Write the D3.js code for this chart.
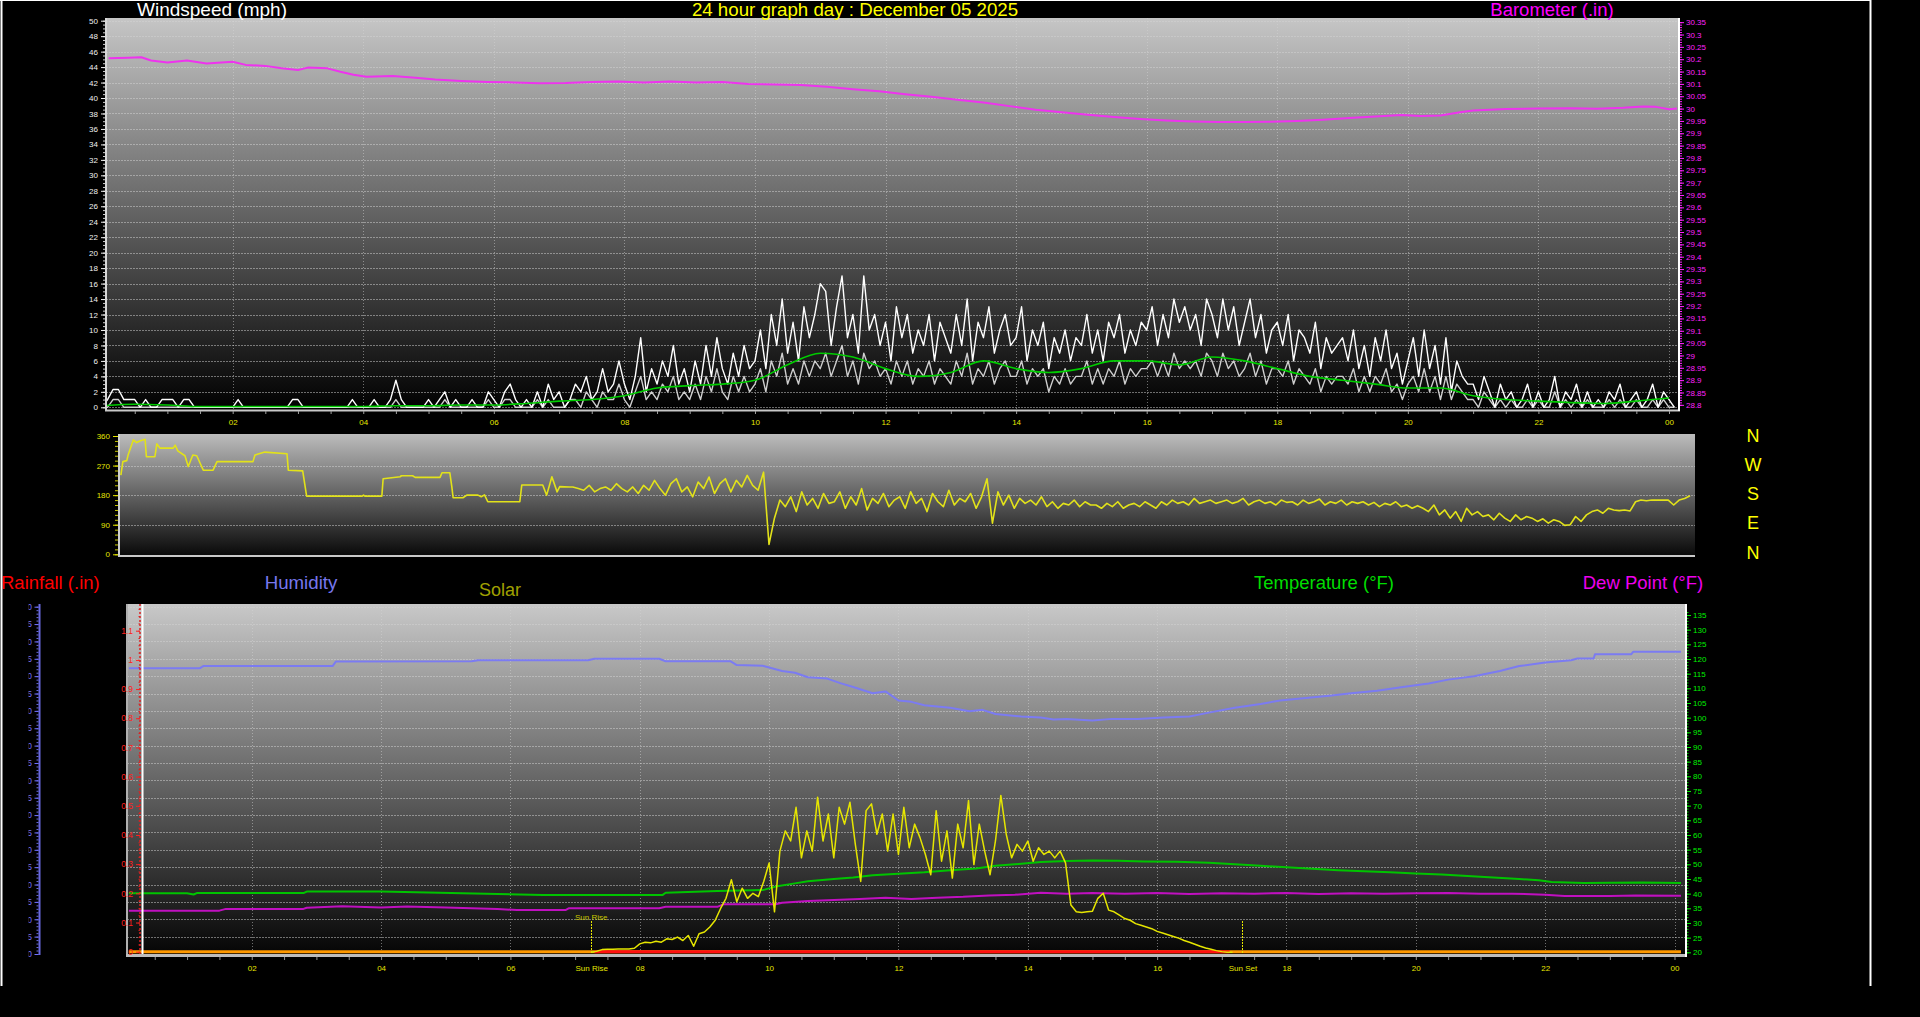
<!DOCTYPE html>
<html><head><meta charset="utf-8">
<script src="https://cdn.jsdelivr.net/npm/d3@7"></script>
<style>html,body{margin:0;padding:0;background:#000;overflow:hidden}</style>
</head><body>
<svg id="c" width="1920" height="1017"></svg>
<script>
// ================= DATA =================
const timeTickHours  = [2,4,6,8,10,12,14,16,18,20,22,24];
const timeTickLabels = ["02","04","06","08","10","12","14","16","18","20","22","00"];
const sunRiseHour = 7.25, sunSetHour = 17.32;
const sunLabels = ["Sun Rise","Sun Set"];

const windTickValues = [0,2,4,6,8,10,12,14,16,18,20,22,24,26,28,30,32,34,36,38,40,42,44,46,48,50];
const baroTickValues = [28.8,28.85,28.9,28.95,29,29.05,29.1,29.15,29.2,29.25,29.3,29.35,29.4,29.45,29.5,29.55,29.6,29.65,29.7,29.75,29.8,29.85,29.9,29.95,30,30.05,30.1,30.15,30.2,30.25,30.3,30.35];
const dirTickValues  = [0,90,180,270,360];
const compassLabels  = ["N","W","S","E","N"];
const rainTickValues = [0,0.1,0.2,0.3,0.4,0.5,0.6,0.7,0.8,0.9,1,1.1];
const tempTickValues = [20,25,30,35,40,45,50,55,60,65,70,75,80,85,90,95,100,105,110,115,120,125,130,135];
const humTickValues  = [0,5,10,15,20,25,30,35,40,45,50,55,60,65,70,75,80,85,90,95,100];

// barometer (.in)
const baroHours  = [0.1,0.4,0.6,0.75,1.0,1.3,1.6,2.0,2.2,2.5,2.75,3.0,3.15,3.45,3.65,3.85,4.05,4.45,4.8,5.1,5.5,5.9,6.3,6.7,7.1,7.5,7.9,8.3,8.7,9.1,9.5,9.9,10.3,10.7,11.1,11.5,11.9,12.3,12.7,13.1,13.5,13.9,14.3,14.7,15.1,15.5,15.9,16.3,16.7,17.1,17.5,17.9,18.3,18.7,19.1,19.5,19.9,20.2,20.5,20.8,21.0,21.5,22.0,22.5,22.9,23.3,23.6,23.8,24.0,24.12];
const baroValues = [30.204,30.206,30.208,30.195,30.187,30.195,30.183,30.190,30.177,30.173,30.163,30.156,30.166,30.163,30.149,30.137,30.129,30.132,30.125,30.118,30.112,30.108,30.106,30.103,30.104,30.108,30.110,30.106,30.110,30.106,30.108,30.100,30.098,30.096,30.088,30.078,30.070,30.058,30.048,30.036,30.025,30.010,29.995,29.985,29.975,29.966,29.958,29.952,29.948,29.946,29.946,29.947,29.950,29.955,29.962,29.968,29.974,29.970,29.972,29.985,29.992,29.998,30.000,30.001,29.999,30.003,30.008,30.007,29.997,30.000];

// wind, 5-minute readings from 00:00 (mph)
const windStepHours = 5/60;
const gustWind = [
0,1,2.3,2.3,1,1,1,0,1,0,0,1,
1,1,0,1,1,0,0,0,0,0,0,0,
0,1,0,0,0,0,0,0,0,0,0,1,
1,0,0,0,0,0,0,0,0,0,1,0,
0,0,1,0,0,1,3.5,1,0,0,0,0,
1,0,1,2,0,1,0,0,1,0,0,2,
1,0,2,3,1,0,1,0,2,0,3,1,
2,0,1,3,2,4,1,2,5,2,3,6,
3,1,4,9,2,5,3,6,4,8,3,5,
2,6,3,8,4,9,5,3,7,4,8,5,
6,10,5,12,8,14,7,11,6,13,9,12,
16,15,8,13,17,9,12,7,17,10,12,8,
11,6,13,9,12,7,10,8,12,6,11,9,
7,12,8,14,6,11,9,13,7,10,12,8,
9,13,6,10,8,11,5,9,7,10,6,9,
8,12,7,10,6,11,9,12,7,10,8,11,
10,13,8,12,9,14,11,13,10,12,8,14,
12,9,14,10,13,8,11,14,9,12,7,10,
11,8,12,6,10,9,7,11,5,9,7,8,
9,6,10,5,8,4,9,6,10,5,7,3,
6,9,4,10,5,8,3,9,2,6,4,3,
3,1,4,2,0,3,1,2,0,1,3,0,
2,0,1,4,0,2,1,3,0,2,0,1,
0,2,1,3,0,1,2,0,1,3,0,2,
1,0];
const avgWind = [
0,0,1,1,0,0,0,0,0,0,0,0,
0,0,0,0,0,0,0,0,0,0,0,0,
0,0,0,0,0,0,0,0,0,0,0,0,
0,0,0,0,0,0,0,0,0,0,0,0,
0,0,0,0,0,0,1,0,0,0,0,0,
0,0,0,1,0,0,0,0,0,0,0,1,
0,0,1,1,0,0,0,0,1,0,1,0,
0,0,1,1,0,2,1,0,2,1,1,3,
1,0,2,4,1,2,1,3,2,4,1,2,
1,3,1,4,2,5,2,1,4,2,4,2,
3,5,2,6,4,7,3,5,3,6,4,6,
5,7,4,6,8,4,6,3,7,5,6,4,
5,3,6,4,6,3,5,4,6,3,5,4,
3,6,4,7,3,5,4,6,3,5,6,4,
4,6,3,5,4,5,2,4,3,5,3,4,
4,6,3,5,3,5,4,6,3,5,4,5,
5,6,4,6,4,7,5,6,5,6,4,7,
6,4,7,5,6,4,5,7,4,6,3,5,
5,4,6,3,5,4,3,5,2,4,3,4,
4,3,5,2,4,2,4,3,5,2,3,1,
3,4,2,5,2,4,1,4,1,3,2,1,
1,0,2,1,0,1,0,1,0,0,1,0,
1,0,0,2,0,1,0,1,0,1,0,0,
0,1,0,1,0,0,1,0,0,1,0,1,
0,0];
// smoothed average wind, 30-minute readings from 00:00
const smoothStepHours = 0.5;
const smoothWind = [0.2,0.4,0.3,0.1,0.1,0.1,0.1,0.1,0.1,0.2,0.2,0.3,0.3,0.5,0.8,1.0,1.5,2.5,2.8,3.0,3.5,5.5,7.0,6.5,5.0,4.0,4.5,6.0,5.0,4.5,5.0,6.0,6.0,5.5,6.5,6.0,5.0,4.0,3.5,3.0,2.5,2.5,1.5,1.0,0.8,0.6,0.5,0.8,1.2];

// wind direction (degrees): stepped readings, then 5-minute readings from 07:00
const dirEarlyHours  = [0.09,0.12,0.18,0.2,0.28,0.33,0.38,0.46,0.48,0.61,0.64,0.69,0.89,0.92,0.96,1.07,1.12,1.19,1.25,1.35,1.5,1.56,2.11,2.14,2.29,2.63,2.65,2.87,2.93,3.78,3.8,3.82,4.08,4.1,4.36,4.38,4.55,4.59,4.97,5.0,5.12,5.15,5.17,5.32,5.38,5.55,5.6,5.65,5.7,6.19,6.22,6.54,6.6,6.68,6.76,6.8,6.95];
const dirEarlyValues = [241,282,285,302,348,340,345,350,297,297,336,323,323,332,315,300,267,302,300,256,256,282,282,302,311,306,256,254,177,177,180,177,177,230,236,239,239,234,234,248,248,206,172,172,180,180,175,181,160,160,211,211,180,236,190,206,205];
const dirLateStart = 7.0;
const dirLateValues = [
205,200,195,210,190,200,205,195,215,200,190,205,
185,210,195,225,200,180,215,230,190,205,175,220,
200,235,185,215,230,190,225,205,240,210,195,250,
30,110,165,145,175,130,190,150,170,140,185,155,
160,190,140,175,150,200,135,170,155,185,145,165,
175,140,190,155,170,130,185,160,145,195,150,170,
160,185,140,175,230,95,190,150,180,140,170,155,
165,150,175,145,160,140,155,150,165,145,160,150,
150,140,155,145,160,140,150,155,145,160,150,140,
160,150,165,155,160,150,170,155,160,165,155,160,
165,155,160,170,150,160,165,155,160,150,165,158,
160,150,165,155,160,168,150,160,155,165,150,160,
155,160,150,158,145,155,150,160,145,150,140,148,
140,130,150,120,135,110,130,100,140,120,130,115,
120,105,125,110,100,120,105,115,110,100,108,95,
105,100,88,90,115,100,120,130,135,125,140,135,
133,135,132,160,165,163,165,165,165,165,150,165,
170,178];

// humidity (%)
const humHours  = [0.1,1.2,1.25,3.25,3.3,5.4,5.5,7.2,7.3,8.3,8.4,9.4,9.5,9.9,10.2,10.4,10.6,10.9,11.1,11.3,11.6,11.8,12.0,12.2,12.4,12.8,13.1,13.3,13.5,13.9,14.2,14.4,14.6,15.0,15.3,15.7,16.1,16.5,16.8,17.2,17.6,17.9,18.3,18.7,19.0,19.4,19.8,20.2,20.5,20.9,21.3,21.6,22.0,22.4,22.5,22.75,22.77,23.33,23.36,24.1];
const humValues = [82.3,82.3,82.9,82.9,84.2,84.3,84.6,84.6,85.0,85.0,84.3,84.3,83.2,83.0,81.5,81.0,79.7,79.3,78.0,76.9,75.1,75.6,73.0,72.6,71.6,70.9,69.9,70.3,69.1,68.4,68.1,67.5,67.7,67.2,67.7,67.7,68.1,68.4,69.5,70.9,72.0,73.0,73.7,74.4,75.1,75.8,76.9,77.9,79.0,80.0,81.5,82.9,83.9,84.6,85.1,85.1,86.3,86.3,87.0,87.0];

// temperature (°F)
const tempHours  = [0.1,1.0,1.1,1.15,2.8,2.85,4.0,5.8,6.5,8.35,8.4,9.2,9.9,10.1,10.4,10.6,11.0,11.3,11.6,12.0,12.4,12.8,13.2,13.5,13.9,14.2,14.6,15.0,15.4,15.8,16.3,16.8,17.2,17.6,18.0,18.4,18.8,19.2,19.6,20.0,20.4,20.8,21.2,21.6,21.9,22.1,22.6,23.0,23.5,24.1];
const tempValues = [40.1,40.1,39.7,40.2,40.2,40.7,40.7,39.9,39.5,39.5,40.3,40.9,41.2,42.4,43.5,44.2,45.0,45.5,46.3,46.8,47.3,48.0,48.6,49.5,50.2,50.8,51.1,51.3,51.2,51.0,50.9,50.5,50.0,49.5,49.0,48.5,48.0,47.6,47.3,46.9,46.5,46.0,45.5,45.0,44.6,44.0,43.6,43.7,43.8,43.6];

// dew point (°F)
const dewHours  = [0.1,1.5,1.6,2.8,2.85,3.4,4.0,4.4,5.0,5.8,6.1,6.85,6.9,8.3,8.4,9.2,9.3,10.1,10.2,10.6,11.0,11.4,11.8,12.2,12.6,13.0,13.4,13.8,14.2,14.6,15.0,15.5,16.0,16.5,17.0,17.5,18.0,18.5,19.0,19.5,20.0,20.5,21.0,21.5,22.0,22.3,23.0,23.4,24.1];
const dewValues = [34.2,34.2,34.8,34.8,35.2,35.7,35.3,35.6,35.3,34.8,34.4,34.4,35.0,35.0,35.5,35.5,36.4,36.4,36.9,37.5,37.8,38.2,38.6,38.2,38.6,38.9,39.4,39.6,40.3,40.0,40.2,40.0,40.2,39.9,40.1,40.0,40.2,39.9,40.1,40.0,40.1,40.2,40.0,40.0,39.6,39.2,39.2,39.4,39.3];

// solar (W/m²), 5-minute readings from sunrise
const solarStart = 7.25;
const solarValues = [0,3,8,9,9,10,10,10,12,25,30,28,33,30,40,38,45,35,50,18,55,60,75,95,130,160,215,150,190,160,175,165,210,265,120,300,360,330,430,280,360,300,460,330,410,280,430,380,445,320,210,420,440,350,410,300,410,290,430,310,380,340,290,230,420,270,360,220,380,310,450,260,380,300,230,330,465,350,280,320,300,330,270,310,290,300,280,300,265,140,120,118,120,122,160,175,125,120,110,100,95,85,80,75,70,62,57,52,47,42,35,30,24,18,13,9,5,2,0,0];

// rainfall (.in) and rain-rate baseline readings
const rainHours  = [0.1,24.1];
const rainValues = [0,0];
const rainRateHours  = [7.3,17.12];
const rainRateValues = [0,0];

// ================= DRAWING =================
const FONT = "'Liberation Sans', Arial, sans-serif";
const svg = d3.select("#c");
const defs = svg.append("defs");

function grad(id, c0, c1) {
  const g = defs.append("linearGradient").attr("id", id).attr("x1",0).attr("y1",0).attr("x2",0).attr("y2",1);
  g.append("stop").attr("offset","0%").attr("stop-color",c0);
  g.append("stop").attr("offset","100%").attr("stop-color",c1);
}
grad("gTop","#c6c6c6","#000000");
grad("gMid","#bcbcbc","#080808");
grad("gBot","#c8c8c8","#040404");

function clip(id, r) {
  defs.append("clipPath").attr("id", id).append("rect")
    .attr("x", r.x).attr("y", r.y).attr("width", r.w).attr("height", r.h);
}

const P1 = {x:106, y:18,  w:1573, h:392};
const P2 = {x:119, y:434, w:1576, h:122};
const P3 = {x:127, y:604, w:1559, h:352};
clip("cTop", P1); clip("cMid", P2); clip("cBot", P3);
clip("cHumLab", {x:28.5, y:590, w:20, h:380});

// scales
const xTop  = d3.scaleLinear().domain([0,24]).range([102.1,1669.0]);
const yWind = d3.scaleLinear().domain([0,50]).range([407.3,20.7]);
const yBaro = d3.scaleLinear().domain([28.79,30.356]).range([407.3,20.7]);
const xMid  = d3.scaleLinear().domain([0,24]).range([115,1684.6]);
const yDir  = d3.scaleLinear().domain([0,360]).range([554.3,436]);
const xBot  = d3.scaleLinear().domain([0,24]).range([122.4,1674.5]);
const yTemp = d3.scaleLinear().domain([20,135]).range([952.3,615]);
const yHum  = d3.scaleLinear().domain([0,100]).range([954,606.7]);
const yRain = d3.scaleLinear().domain([0,1.1]).range([951.7,630.7]);
const ySolar= d3.scaleLinear().domain([0,1000]).range([952.3,615]);

// backgrounds
svg.append("rect").attr("x",P1.x).attr("y",P1.y).attr("width",P1.w).attr("height",P1.h).attr("fill","url(#gTop)");
svg.append("rect").attr("x",P2.x).attr("y",P2.y).attr("width",P2.w).attr("height",P2.h).attr("fill","url(#gMid)");
svg.append("rect").attr("x",P3.x).attr("y",P3.y).attr("width",P3.w).attr("height",P3.h).attr("fill","url(#gBot)");

const gridStyle = sel => sel.attr("stroke","#d4d4d4").attr("stroke-opacity",0.5).attr("stroke-width",1)
  .attr("stroke-dasharray","2 1").attr("shape-rendering","crispEdges");

// ---- top panel grid
const gTop = svg.append("g").attr("clip-path","url(#cTop)");
gTop.selectAll(".hg").data(windTickValues).join("line")
  .attr("x1",P1.x).attr("x2",P1.x+P1.w).attr("y1",d=>Math.round(yWind(d))+0.5).attr("y2",d=>Math.round(yWind(d))+0.5).call(gridStyle);
gTop.selectAll(".vg").data(timeTickHours).join("line")
  .attr("x1",d=>Math.round(xTop(d))+0.5).attr("x2",d=>Math.round(xTop(d))+0.5).attr("y1",P1.y).attr("y2",P1.y+P1.h).call(gridStyle)
  .attr("stroke-dasharray","1 2");

// ---- mid panel grid
const gMid = svg.append("g").attr("clip-path","url(#cMid)");
gMid.selectAll("line").data([90,180,270]).join("line")
  .attr("x1",P2.x).attr("x2",P2.x+P2.w).attr("y1",d=>Math.round(yDir(d))+0.5).attr("y2",d=>Math.round(yDir(d))+0.5).call(gridStyle);

// ---- bottom panel grid
const gBot = svg.append("g").attr("clip-path","url(#cBot)");
gBot.selectAll(".hg").data(humTickValues).join("line")
  .attr("x1",P3.x).attr("x2",P3.x+P3.w).attr("y1",d=>Math.round(yHum(d))+0.5).attr("y2",d=>Math.round(yHum(d))+0.5).call(gridStyle);
gBot.selectAll(".vg").data(timeTickHours).join("line")
  .attr("x1",d=>Math.round(xBot(d))+0.5).attr("x2",d=>Math.round(xBot(d))+0.5).attr("y1",P3.y).attr("y2",P3.y+P3.h).call(gridStyle)
  .attr("stroke-dasharray","1 2");

// ---- series helpers
const seriesFromStep = (arr, start, step) => arr.map((v,i)=>[start+i*step, v]);
const zip = (hs, vs) => hs.map((h,i)=>[h, vs[i]]);

function drawLine(g, data, xs, ys, color, w, curve) {
  g.append("path").datum(data).attr("fill","none").attr("stroke",color).attr("stroke-width",w)
   .attr("stroke-linejoin","round")
   .attr("d", d3.line().x(d=>xs(d[0])).y(d=>ys(d[1])).curve(curve||d3.curveLinear));
}
// top
drawLine(gTop, zip(baroHours, baroValues), xTop, yBaro, "#ee33ee", 2);
drawLine(gTop, seriesFromStep(avgWind, 0, windStepHours), xTop, yWind, "#cfcfcf", 1.4);
drawLine(gTop, seriesFromStep(gustWind, 0, windStepHours), xTop, yWind, "#ffffff", 1.4);
drawLine(gTop, seriesFromStep(smoothWind, 0, smoothStepHours), xTop, yWind, "#00cc00", 1.6, d3.curveMonotoneX);

// mid
const dirData = zip(dirEarlyHours, dirEarlyValues).concat(seriesFromStep(dirLateValues, dirLateStart, 5/60));
drawLine(gMid, dirData, xMid, yDir, "#e2e21a", 1.6);

// bottom
drawLine(gBot, zip(rainHours, rainValues), xBot, yRain, "#ff9900", 3);
drawLine(gBot, zip(rainRateHours, rainRateValues), xBot, yRain, "#ff1010", 3);
drawLine(gBot, zip(humHours, humValues), xBot, yHum, "#7b7bf2", 2);
drawLine(gBot, zip(tempHours, tempValues), xBot, yTemp, "#00c400", 2);
drawLine(gBot, zip(dewHours, dewValues), xBot, yTemp, "#c010c0", 2);
drawLine(gBot, seriesFromStep(solarValues, solarStart, 5/60), xBot, ySolar, "#e6e600", 1.5);

// sun rise / set markers
[sunRiseHour, sunSetHour].forEach(h => {
  svg.append("line").attr("x1",Math.round(xBot(h))+0.5).attr("x2",Math.round(xBot(h))+0.5)
    .attr("y1",921).attr("y2",P3.y+P3.h).attr("stroke","#e6e600").attr("stroke-width",1).attr("stroke-dasharray","2 1");
});
svg.append("text").attr("x",xBot(sunRiseHour)).attr("y",920).attr("text-anchor","middle")
  .attr("fill","#c8c800").attr("font-family",FONT).attr("font-size",8).text(sunLabels[0]);

// white marker line in bottom panel & rain axis
svg.append("line").attr("x1",142.5).attr("x2",142.5).attr("y1",P3.y).attr("y2",P3.y+P3.h).attr("stroke","#ffffff").attr("stroke-width",2);
svg.append("line").attr("x1",140).attr("x2",140).attr("y1",P3.y).attr("y2",P3.y+P3.h).attr("stroke","#dd2020").attr("stroke-width",1.5).attr("stroke-dasharray","2 2");

// ---- panel borders
const ln = (x1,y1,x2,y2,c,w) => svg.append("line").attr("x1",x1).attr("y1",y1).attr("x2",x2).attr("y2",y2).attr("stroke",c).attr("stroke-width",w);
ln(106,18,106,411,"#d8d8d8",2);
ln(105,410.5,1680,410.5,"#c8c8c8",2);
ln(1679,18,1679,411,"#ffffff",2);
ln(119,434,119,557,"#d0d0d0",2);
ln(118,556,1695,556,"#c8c8c8",2);
ln(127,604,127,957,"#b0b0b0",2);
ln(126,955.5,1686,955.5,"#bdbdbd",3);
ln(1686,604,1686,957,"#ffffff",2);

// ---- axes helpers
function styleAxis(g, color, size) {
  g.attr("font-size", null).attr("font-family", null);
  g.select(".domain").remove();
  g.selectAll(".tick line").attr("stroke", color);
  g.selectAll(".tick text").attr("fill", color).attr("font-size", size).attr("font-family", FONT);
}
const fmtNum = d => String(+d.toFixed(2));

// wind axis (left)
svg.append("g").attr("transform","translate(105,0)")
  .call(d3.axisLeft(yWind).tickValues(d3.range(0,50.01,0.5)).tickSize(2).tickFormat(""))
  .call(g=>styleAxis(g,"#cfcfcf",8));
svg.append("g").attr("transform","translate(105,0)")
  .call(d3.axisLeft(yWind).tickValues(windTickValues).tickSize(4).tickPadding(3).tickFormat(d=>d))
  .call(g=>styleAxis(g,"#f0f0f0",8));

// barometer axis (right)
svg.append("g").attr("transform","translate(1680,0)")
  .call(d3.axisRight(yBaro).tickValues(d3.range(28.8,30.355,0.01)).tickSize(2).tickFormat(""))
  .call(g=>styleAxis(g,"#ff22ff",8));
svg.append("g").attr("transform","translate(1680,0)")
  .call(d3.axisRight(yBaro).tickValues(baroTickValues).tickSize(4).tickPadding(2).tickFormat(fmtNum))
  .call(g=>styleAxis(g,"#ff22ff",8));

// top time axis
svg.append("g").attr("transform","translate(0,411)")
  .call(d3.axisBottom(xTop).tickValues(d3.range(0.5,24.01,0.5)).tickSize(3).tickFormat(""))
  .call(g=>styleAxis(g,"#a0a0a0",8));
svg.append("g").attr("transform","translate(0,411)")
  .call(d3.axisBottom(xTop).tickValues(timeTickHours).tickSize(0).tickPadding(8).tickFormat((d,i)=>timeTickLabels[i]))
  .call(g=>styleAxis(g,"#e6e600",8));

// direction axis
svg.append("g").attr("transform","translate(118,0)")
  .call(d3.axisLeft(yDir).tickValues(d3.range(0,360.1,15)).tickSize(3).tickFormat(""))
  .call(g=>styleAxis(g,"#c8c800",8));
svg.append("g").attr("transform","translate(118,0)")
  .call(d3.axisLeft(yDir).tickValues(dirTickValues).tickSize(5).tickPadding(3).tickFormat(d=>d))
  .call(g=>styleAxis(g,"#e6e600",8));

// compass letters
svg.append("g").selectAll("text").data(compassLabels).join("text")
  .attr("x",1753).attr("y",(d,i)=>441.5+i*29.3).attr("text-anchor","middle")
  .attr("fill","#ffff00").attr("font-family",FONT).attr("font-size",18).text(d=>d);

// rain axis
svg.append("g").attr("transform","translate(140,0)")
  .call(d3.axisLeft(yRain).tickValues(d3.range(0,1.191,0.025)).tickSize(1.5).tickFormat(""))
  .call(g=>styleAxis(g,"#dd2020",8));
svg.append("g").attr("transform","translate(140,0)")
  .call(d3.axisLeft(yRain).tickValues(rainTickValues).tickSize(4).tickPadding(3).tickFormat(fmtNum))
  .call(g=>styleAxis(g,"#ff2020",8.5));

// temperature axis (right)
svg.append("g").attr("transform","translate(1687,0)")
  .call(d3.axisRight(yTemp).tickValues(d3.range(20,137,1)).tickSize(1.5).tickFormat(""))
  .call(g=>styleAxis(g,"#00dd00",8));
svg.append("g").attr("transform","translate(1687,0)")
  .call(d3.axisRight(yTemp).tickValues(tempTickValues).tickSize(4).tickPadding(2).tickFormat(d=>d))
  .call(g=>styleAxis(g,"#00ee00",8));

// humidity axis (far left, labels clipped on the left)
svg.append("line").attr("x1",39.5).attr("x2",39.5).attr("y1",604).attr("y2",955).attr("stroke","#6a6ae0").attr("stroke-width",2);
svg.append("g").attr("transform","translate(38.5,0)")
  .call(d3.axisLeft(yHum).tickValues(d3.range(0,100.1,1)).tickSize(2).tickFormat(""))
  .call(g=>styleAxis(g,"#6a6ae0",8));
svg.append("g").attr("clip-path","url(#cHumLab)")
  .append("g").attr("transform","translate(38.5,0)")
  .call(d3.axisLeft(yHum).tickValues(humTickValues).tickSize(4).tickPadding(2.5).tickFormat(d=>d))
  .call(g=>styleAxis(g,"#7070ff",8.5));

// bottom time axis
svg.append("g").attr("transform","translate(0,957)")
  .call(d3.axisBottom(xBot).tickValues(d3.range(0.5,24.01,0.5)).tickSize(3).tickFormat(""))
  .call(g=>styleAxis(g,"#909090",8));
svg.append("g").attr("transform","translate(0,957)")
  .call(d3.axisBottom(xBot).tickValues(timeTickHours.concat([sunRiseHour, sunSetHour])).tickSize(0).tickPadding(8)
    .tickFormat((d,i)=> i < timeTickLabels.length ? timeTickLabels[i] : sunLabels[i - timeTickLabels.length]))
  .call(g=>styleAxis(g,"#e6e600",8));

// ---- titles
const title = (txt,x,y,color,size,anchor) => svg.append("text").attr("x",x).attr("y",y)
  .attr("text-anchor",anchor||"middle").attr("fill",color).attr("font-family",FONT).attr("font-size",size).text(txt);
title("Windspeed (mph)", 212, 15.5, "#ffffff", 19);
title("24 hour graph day : December 05 2025", 855, 15.5, "#ffff00", 18.7);
title("Barometer (.in)", 1552, 15.5, "#ff00ff", 18.5);
title("Rainfall (.in)", 1, 588.5, "#ff0000", 18.5, "start");
title("Humidity", 301, 588.5, "#7777ee", 18.7);
title("Solar", 500, 596, "#a0a000", 18);
title("Temperature (°F)", 1324, 588.5, "#00dd00", 18.5);
title("Dew Point (°F)", 1643, 588.5, "#ee00ee", 18.5);

// ---- outer frame
ln(1.5,0,1.5,986,"#ffffff",2);
ln(1870.5,0,1870.5,986,"#ffffff",2);
ln(0,0.5,1871,0.5,"#ffffff",1);
</script>
</body></html>
